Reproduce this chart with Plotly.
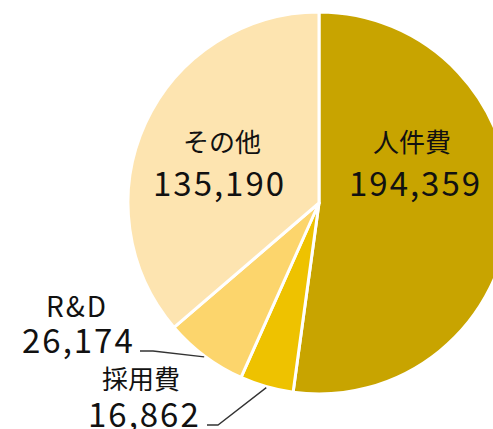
import math
import plotly.graph_objects as go

# cost breakdown
labels = ["人件費", "採用費", "R&D", "その他"]
values = [194359, 16862, 26174, 135190]
colors = ["#C8A400", "#EEC200", "#FCD56C", "#FDE4B0"]

FONT = "Noto Sans CJK JP"
W, H = 520, 429
ML, MR, MT, MB = 128, 10, 12, 35
PW, PH = W - ML - MR, H - MT - MB
CX, CY, R = ML + PW / 2, MT + PH / 2, min(PW, PH) / 2


def to_paper(px, py):
    return (px - ML) / PW, (H - MB - py) / PH


def edge_point(i, r):
    # mid angle of slice i, clockwise from 12 o'clock
    total = sum(values)
    start = sum(values[:i]) / total * 360
    mid = math.radians(start + values[i] / total * 180)
    return CX + r * math.sin(mid), CY - r * math.cos(mid)


def add_text(px, py, text, size, spacing=0):
    x, y = to_paper(px, py)
    if spacing:
        text = "<span style='letter-spacing:{}px'>{}</span>".format(spacing, text)
    fig.add_annotation(
        x=x, y=y, xref="paper", yref="paper",
        xanchor="center", yanchor="middle", showarrow=False,
        text=text, font=dict(family=FONT, size=size, color="#111111"),
    )


fig = go.Figure()

fig.add_trace(go.Pie(
    labels=labels,
    values=values,
    sort=False,
    direction="clockwise",
    rotation=0,
    marker=dict(colors=colors, line=dict(color="white", width=3)),
    textinfo="none",
    hoverinfo="label+value+percent",
    showlegend=False,
    domain=dict(x=[0, 1], y=[0, 1]),
))

# label / value centres (px) for each slice
label_pos = {0: (412, 140), 1: (141, 377), 2: (77, 305), 3: (222, 140)}
value_pos = {0: (415, 182), 1: (144, 413), 2: (78, 339), 3: (219, 182)}
for i in range(len(labels)):
    if labels[i].isascii():
        # latin label is a bit bigger/wider in the reference face
        add_text(*label_pos[i], labels[i], 28, spacing=2)
    else:
        add_text(*label_pos[i], labels[i], 26)
    add_text(*value_pos[i], "{:,}".format(values[i]), 33, spacing=2)

# elbow leader lines for the two small slices
leaders = {1: ((218, 425), (207, 425)), 2: ((153, 351), (140, 351))}
for i, (elbow, end) in leaders.items():
    sx, sy = edge_point(i, R + 1)
    pts = [to_paper(sx, sy), to_paper(*elbow), to_paper(*end)]
    path = "M {} {} L {} {} L {} {}".format(*[c for p in pts for c in p])
    fig.add_shape(type="path", xref="paper", yref="paper", path=path,
                  line=dict(color="#333333", width=1.3))

fig.update_layout(
    width=W,
    height=H,
    margin=dict(l=ML, r=MR, t=MT, b=MB),
    paper_bgcolor="white",
    font=dict(family=FONT),
)

fig.write_html("out.html", config={"displayModeBar": False},
               post_script="document.body.style.margin='0';document.body.style.overflow='hidden';")
